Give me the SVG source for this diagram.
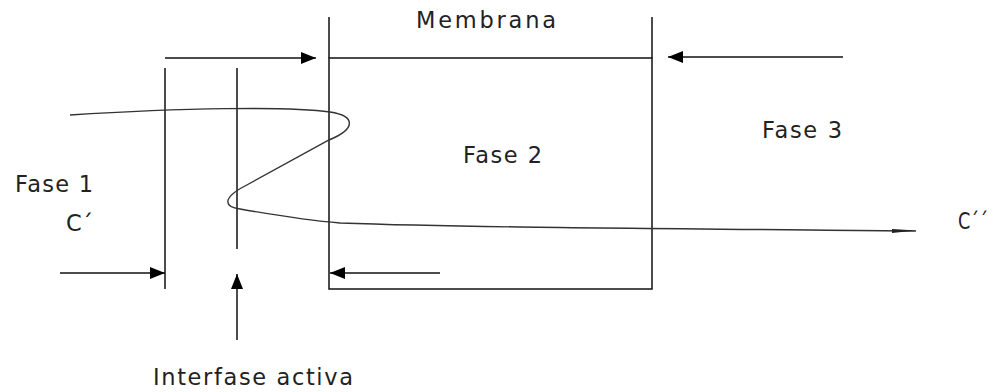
<svg xmlns="http://www.w3.org/2000/svg" width="999" height="392" viewBox="0 0 999 392">
<style>
.ln{stroke:#111;stroke-width:1.5;fill:none}
.cv{stroke:#333;stroke-width:1.4;fill:none}
.t{font-family:"DejaVu Sans","Liberation Sans",sans-serif;font-size:22.5px;fill:#222}
</style>
<defs>
<marker id="ah" markerUnits="userSpaceOnUse" markerWidth="16" markerHeight="14" refX="15" refY="7" orient="auto">
<path d="M0,1 L15,7 L0,13 Z" fill="#000"/>
</marker>
</defs>
<rect width="999" height="392" fill="#fff"/>
<g id="membrana">
<rect x="329" y="58" width="323" height="231" class="ln"/>
<line x1="329" y1="17" x2="329" y2="58" class="ln"/>
<line x1="652" y1="17" x2="652" y2="58" class="ln"/>
<text class="t" x="416" y="28" textLength="140" lengthAdjust="spacing">Membrana</text>
<text class="t" x="463" y="163" textLength="79" lengthAdjust="spacing">Fase 2</text>
</g>
<g id="fase1">
<line x1="165" y1="68" x2="165" y2="289" class="ln"/>
<text class="t" x="15" y="192" textLength="78" lengthAdjust="spacing">Fase 1</text>
<text class="t" x="66" y="231">C´</text>
</g>
<g id="interfase">
<line x1="237" y1="68" x2="237" y2="249" class="ln"/>
<text class="t" x="153" y="385" textLength="200" lengthAdjust="spacing">Interfase activa</text>
</g>
<g id="fase3">
<text class="t" x="762" y="138" textLength="80" lengthAdjust="spacing">Fase 3</text>
<text class="t" x="958" y="229" textLength="30" lengthAdjust="spacingAndGlyphs">C´´</text>
</g>
<g id="curva">
<path class="cv" d="M70,115 C180,108 290,106 330,112 C356,116 356,129 329,140 L245,186 C222,198 224,207 240,209 C280,216 315,221 340,223 C450,227 600,228 916,231"/>
<path d="M892,229 L916,230.5 L892,233 Z" fill="#222"/>
</g>
<g id="connectors">
<line x1="165" y1="58" x2="316" y2="58" class="ln" marker-end="url(#ah)"/>
<line x1="843" y1="57" x2="668" y2="57" class="ln" marker-end="url(#ah)"/>
<line x1="60" y1="273" x2="165" y2="273" class="ln" marker-end="url(#ah)"/>
<line x1="440" y1="273" x2="330" y2="273" class="ln" marker-end="url(#ah)"/>
<line x1="237" y1="340" x2="237" y2="274" class="ln" marker-end="url(#ah)"/>
</g>
</svg>
